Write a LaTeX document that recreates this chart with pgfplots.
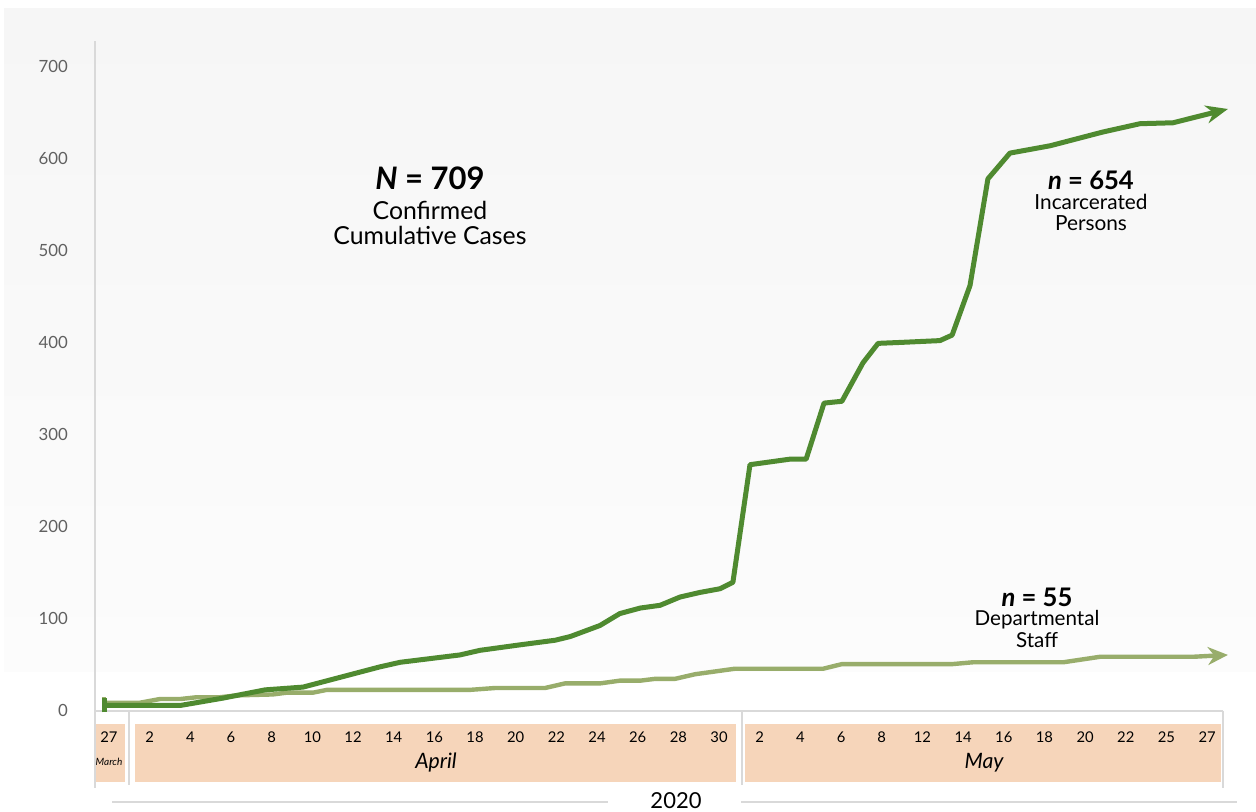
\documentclass[border=0pt]{standalone}
\usepackage{pgfplots}
\usepackage{pgfplotstable}
\pgfplotsset{compat=1.18}
\usetikzlibrary{arrows.meta}
\usepackage{fontspec}
\setmainfont{Lato}
\definecolor{darkg}{RGB}{79,138,48}
\definecolor{lightg}{RGB}{152,173,107}
\definecolor{band}{RGB}{246,213,186}
\definecolor{axgray}{RGB}{217,217,217}
\definecolor{tickgray}{RGB}{96,96,96}
\definecolor{bgtop}{RGB}{246,246,246}
\definecolor{bgbot}{RGB}{252,252,252}

% Incarcerated persons (x = position along the category axis, y = cumulative cases)
\pgfplotstableread{
x y
-0.17 5
1.75 5
2.80 13
3.84 22
4.77 25
6.66 47
7.16 52
8.63 60
9.12 65
10.11 71
10.97 76
11.34 80
12.07 92
12.56 105
13.06 111
13.55 114
14.04 123
14.53 128
15.02 132
15.34 139
15.76 267
16.74 273
17.14 273
17.58 334
18.02 336
18.54 378
18.91 399
19.45 400
20.43 402
20.73 408
21.17 462
21.61 578
22.15 606
23.14 614
24.44 629
25.35 638
26.16 639
27.51 654
}\inc

% Departmental staff
\pgfplotstableread{
x y
-0.17 8
0.76 8
1.25 12
1.75 12
2.16 14
2.73 14
3.15 16
4.03 17
4.38 19
5.02 19
5.36 22
8.88 22
9.49 24
10.72 24
11.21 29
12.07 29
12.56 32
13.06 32
13.43 34
13.92 34
14.41 39
15.39 45
17.56 45
18.02 50
20.73 50
21.24 52
23.46 52
24.37 58
26.66 58
27.51 60
}\staff

\begin{document}
\begin{tikzpicture}
\useasboundingbox (0,0) rectangle (628pt,406pt);
\fill[white] (0,0) rectangle (628pt,406pt);
\begin{scope}[x=0.5pt,y=-0.5pt,yshift=406pt]
\shade[top color=bgtop,bottom color=bgbot] (4,9) rectangle (1256,672);
\fill[band] (95,724) rectangle (125,782);
\fill[band] (135,724) rectangle (736,782);
\fill[band] (745,724) rectangle (1221,782);
\draw[axgray, line width=0.75pt] (95,711) -- (95,788);
\draw[axgray, line width=0.75pt] (129,711) -- (129,785);
\draw[axgray, line width=0.75pt] (742,711) -- (742,785);
\draw[axgray, line width=0.75pt] (1223,711) -- (1223,788);
\draw[axgray, line width=0.75pt] (112,802) -- (608,802);
\draw[axgray, line width=0.75pt] (741,802) -- (1237,802);
\end{scope}

\begin{axis}[at={(47.5pt,50.5pt)}, anchor=south west, scale only axis,
  width=564pt, height=335pt,
  xmin=-0.344, xmax=27.39, ymin=-1, ymax=728, clip=false,
  axis x line*=bottom, axis y line*=left,
  axis line style={axgray, line width=0.75pt},
  ytick={0,100,...,700},
  xtick={0,...,27},
  xticklabels={27,2,4,6,8,10,12,14,16,18,20,22,24,26,28,30,2,4,6,8,12,14,16,18,20,22,25,27},
  major tick length=0pt, tick style={draw=none},
  /pgf/number format/assume math mode=true,
  yticklabel style={font=\fontsize{8.4}{9}\selectfont, text=tickgray, xshift=-10pt},
  xticklabel style={font=\fontsize{7.4}{8}\selectfont, anchor=center, yshift=-13pt},
]
\addplot[lightg, line width=2.2pt, line join=round, {Bar[width=6pt]}-{Stealth[length=10pt,width=9pt]}] table {\staff};
\addplot[darkg, line width=2.5pt, line join=round, {Bar[width=7pt]}-{Stealth[length=11pt,width=9pt]}] table {\inc};
\end{axis}

\begin{scope}[x=0.5pt,y=-0.5pt,yshift=406pt]
\node[font=\fontsize{15.5}{17}\selectfont\bfseries] at (430,178) {{\itshape N} = 709};
\node[font=\fontsize{12.4}{14}\selectfont] at (430,210) {Confirmed};
\node[font=\fontsize{12.4}{14}\selectfont] at (430,235) {Cumulative Cases};
\node[font=\fontsize{12.8}{14}\selectfont\bfseries] at (1091,180) {{\itshape n} = 654};
\node[font=\fontsize{10.4}{12}\selectfont] at (1091,202) {Incarcerated};
\node[font=\fontsize{10.4}{12}\selectfont] at (1091,223) {Persons};
\node[font=\fontsize{12.8}{14}\selectfont\bfseries] at (1037,597) {{\itshape n} = 55};
\node[font=\fontsize{10.3}{12}\selectfont] at (1037,620) {Departmental};
\node[font=\fontsize{10.3}{12}\selectfont] at (1037,640) {Staff};
\node[font=\fontsize{5}{6}\selectfont\itshape] at (109,762) {March};
\node[font=\fontsize{10.6}{12}\selectfont\itshape] at (436,763) {April};
\node[font=\fontsize{10.6}{12}\selectfont\itshape] at (984,763) {May};
\node[font=\fontsize{11}{13}\selectfont] at (676,801) {2020};
\end{scope}
\end{tikzpicture}
\end{document}
